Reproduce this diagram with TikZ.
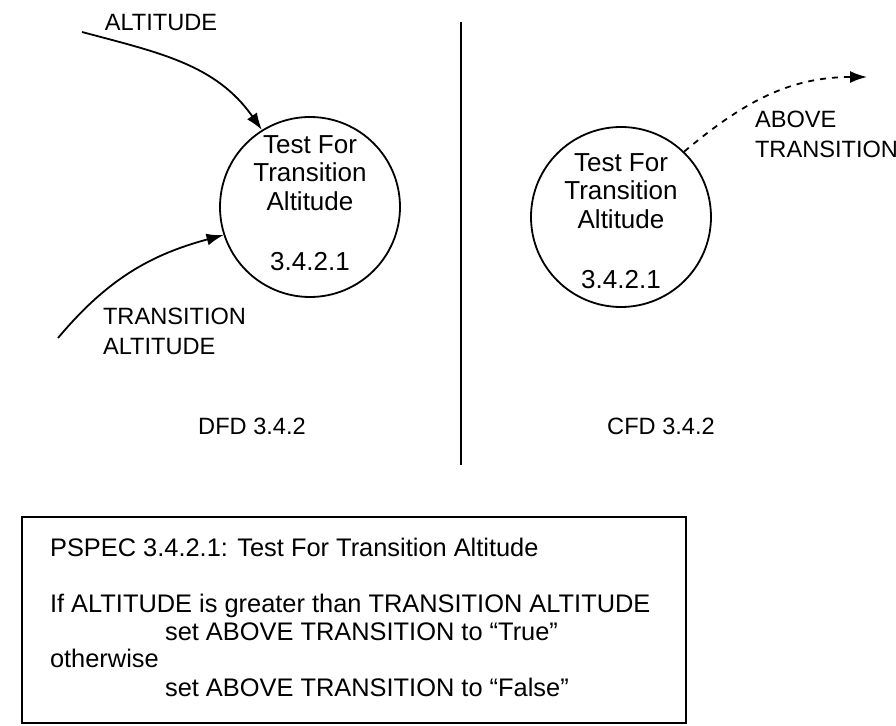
\documentclass[tikz,border=0pt]{standalone}
\usepackage{fontspec}
\setmainfont{Liberation Sans}
\usetikzlibrary{arrows.meta}
\begin{document}
\begin{tikzpicture}[x=0.5pt,y=-0.5pt,
    bubble/.style={draw,circle,line width=0.9pt,minimum size=90pt,inner sep=0pt},
    bubbletext/.style={align=center,font=\fontsize{13}{14.25}\selectfont},
    lbl/.style={align=left,font=\fontsize{11.8}{15}\selectfont},
    flow/.style={line width=0.9pt,-{Latex[length=8.5pt,width=6pt]}},
    spec/.style={anchor=west,font=\fontsize{12.7}{13}\selectfont}]
  \useasboundingbox (0,0) rectangle (896,726);
  % DFD side
  \node[bubble] (dfdproc) at (310,207) {};
  \node[bubbletext] (dfdname) at (310,203) {Test For\\Transition\\Altitude\\[16pt]3.4.2.1};
  \coordinate (altin) at (82,32);
  \coordinate (transin) at (58,338);
  \draw[flow] (altin) to[out=-15,in=125] (dfdproc.122);
  \draw[flow] (transin) to[out=50,in=195] (dfdproc.198);
  \node[lbl] (altlbl) at (161,23) {ALTITUDE};
  \node[lbl,anchor=west] (translbl) at (96,331) {TRANSITION\\ALTITUDE};
  \node[lbl] (dfdlbl) at (252,426) {DFD 3.4.2};
  % divider
  \coordinate (divtop) at (461,22);
  \coordinate (divbot) at (461,465);
  \draw[line width=0.9pt] (divtop) -- (divbot);
  % CFD side
  \node[bubble] (cfdproc) at (621,217) {};
  \node[bubbletext] (cfdname) at (621,221) {Test For\\Transition\\Altitude\\[16pt]3.4.2.1};
  \coordinate (aboveout) at (867,77);
  \draw[flow,dashed] (cfdproc.46) to[out=40,in=180] (aboveout);
  \node[lbl,anchor=west] (abovelbl) at (748,134) {ABOVE\\TRANSITION};
  \node[lbl] (cfdlbl) at (661,426) {CFD 3.4.2};
  % PSPEC
  \draw[line width=0.7pt] (22,517) rectangle (686,723);
  \node[spec] (pspec) at (43,547) {PSPEC 3.4.2.1: Test For Transition Altitude};
  \node[spec] (ifline) at (43,606) {If ALTITUDE is greater than TRANSITION ALTITUDE};
  \node[spec] (trueline) at (158,632) {set ABOVE TRANSITION to ``True''};
  \node[spec] (otherline) at (43,658) {otherwise};
  \node[spec] (falseline) at (158,687) {set ABOVE TRANSITION to ``False''};
\end{tikzpicture}
\end{document}
